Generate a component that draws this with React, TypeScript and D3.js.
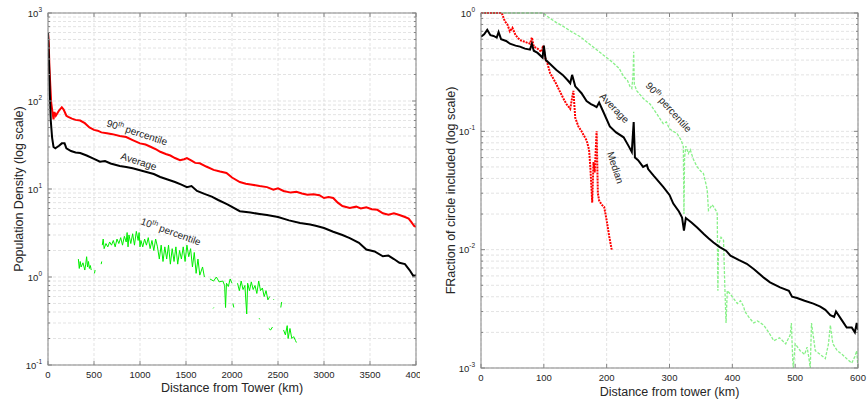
import React from "react";
import * as d3 from "d3";

type P = [number, number] | null;

// ---------- LEFT PANEL DATA ----------
const leftXTicks = [0, 500, 1000, 1500, 2000, 2500, 3000, 3500, 4000];
const leftYExps = [-1, 0, 1, 2, 3];

const leftAverage: P[] = [
  [0, 600], [10, 300], [20, 120], [30, 60], [45, 38], [60, 30], [80, 29], [100, 30], [120, 31],
  [150, 33], [180, 33], [200, 29], [250, 27], [300, 26], [350, 25.6], [420, 24], [500, 22],
  [565, 20.4], [620, 20.8], [680, 19.5], [780, 18.3], [850, 17.8], [920, 17.2], [1000, 16.3],
  [1080, 15.5], [1150, 14.8], [1220, 13.7], [1300, 12.8], [1380, 12], [1450, 11.2], [1510, 10.5],
  [1560, 10.8], [1620, 9.5], [1700, 8.8], [1780, 8.2], [1850, 7.5], [1950, 6.7], [2085, 5.6],
  [2200, 5.4], [2300, 5.2], [2380, 5.06], [2500, 4.8], [2620, 4.4], [2740, 4.1], [2850, 3.95],
  [2920, 3.8], [3000, 3.6], [3100, 3.27], [3200, 3.0], [3280, 2.77], [3380, 2.45], [3460, 2.05],
  [3550, 1.95], [3640, 1.72], [3700, 1.75], [3760, 1.6], [3820, 1.45], [3880, 1.4], [3930, 1.2],
  [3970, 1.03], [4000, 1.05],
];

const left90th: P[] = [
  [0, 600], [8, 450], [15, 250], [25, 150], [35, 95], [50, 73], [60, 62], [70, 75], [85, 68],
  [100, 72], [120, 78], [150, 85], [170, 80], [200, 68], [220, 66], [260, 63], [300, 61],
  [350, 60], [400, 56], [450, 50], [500, 47], [540, 46], [580, 44], [640, 43], [700, 42],
  [780, 40], [850, 39], [920, 36], [1000, 33], [1060, 32], [1120, 30], [1180, 28], [1220, 26.5],
  [1280, 25], [1330, 24], [1380, 22.5], [1435, 21.3], [1480, 21.8], [1510, 22.5], [1560, 21],
  [1600, 19.8], [1650, 19.6], [1720, 18], [1800, 16.5], [1870, 15.8], [1940, 15.2], [2000, 13.5],
  [2085, 12], [2150, 11.5], [2220, 11.2], [2300, 10.8], [2380, 10.5], [2450, 9.8], [2500, 10.2],
  [2560, 9.5], [2640, 9.1], [2700, 9.3], [2760, 8.9], [2820, 8.6], [2885, 8.7], [2950, 8.5],
  [3000, 7.9], [3050, 8.1], [3100, 7.9], [3150, 7.0], [3200, 6.4], [3280, 6.1], [3350, 6.3],
  [3400, 6.0], [3460, 6.2], [3520, 5.9], [3580, 5.8], [3640, 5.3], [3700, 5.1], [3760, 5.3],
  [3820, 5.06], [3880, 4.8], [3920, 4.6], [3950, 4.2], [3980, 3.8], [4000, 3.7],
];

const left10th: P[] = [
  [330, 1.6], [340, 1.25], [350, 1.5], [360, 1.3], [380, 1.45], [400, 1.2], [410, 1.4], [420, 1.7],
  [430, 1.3], [440, 1.5], [450, 1.25], [460, 1.35], [470, 1.2], null,
  [505, 1.1], [512, 1.2], null, [578, 1.4], [584, 1.5], null,
  [590, 2.3], [600, 2.7], [610, 2.1], [630, 2.4], [650, 2.2], [670, 2.5], [690, 2.3], [710, 2.6],
  [730, 2.2], [750, 2.7], [770, 2.4], [790, 2.8], [810, 2.3], [830, 2.9], [850, 2.5], [860, 3.2],
  [870, 2.2], [880, 3.0], [900, 2.4], [920, 3.1], [940, 2.3], [960, 3.3], [980, 2.6], [990, 3.2],
  [1000, 2.2], [1010, 2.6], [1030, 2.2], [1050, 2.7], [1070, 2.3], [1090, 2.8], [1110, 2.1],
  [1130, 2.6], [1150, 2.0], [1170, 2.7], [1190, 2.2], [1210, 1.6], [1230, 2.3], [1250, 1.5],
  [1270, 2.2], [1290, 1.6], [1310, 2.3], [1330, 1.4], [1350, 2.1], [1370, 1.5], [1390, 2.2],
  [1410, 1.4], [1430, 2.0], [1450, 1.6], [1470, 2.2], [1490, 1.5], [1510, 2.3], [1530, 1.7],
  [1550, 2.1], [1570, 1.3], [1590, 1.9], [1610, 1.1], [1630, 1.6], [1650, 1.05], [1680, 1.3],
  [1700, 1.0], null,
  [1760, 0.95], [1800, 0.9], [1830, 1.0], [1860, 0.88], [1900, 0.9], [1920, 0.8], [1930, 0.45],
  [1940, 0.85], [1960, 0.78], [1980, 0.95], [2000, 0.85], null,
  [1795, 0.44], [1802, 0.45], null, [2010, 0.5], [2020, 0.45], null,
  [2060, 0.85], [2080, 0.7], [2100, 0.9], [2120, 0.72], [2140, 0.8], [2160, 0.38], [2170, 0.85],
  [2190, 0.7], [2210, 0.88], [2230, 0.72], [2250, 0.8], [2270, 0.65], [2290, 0.9], [2310, 0.7],
  [2330, 0.75], [2350, 0.6], [2370, 0.7], [2390, 0.55], [2410, 0.6], null,
  [2295, 0.34], [2302, 0.33], null, [2450, 0.56], [2456, 0.55], null,
  [2530, 0.45], [2540, 0.52], null,
  [2400, 0.26], [2420, 0.25], [2440, 0.27], null,
  [2560, 0.25], [2580, 0.22], [2600, 0.28], [2610, 0.2], [2630, 0.26], [2650, 0.2], [2670, 0.21],
  [2690, 0.19], [2700, 0.18],
];

// ---------- RIGHT PANEL DATA ----------
const rightXTicks = [0, 100, 200, 300, 400, 500, 600];
const rightYExps = [-3, -2, -1, 0];

const rightAverage: P[] = [
  [0, 0.63], [5, 0.66], [10, 0.72], [15, 0.65], [20, 0.64], [25, 0.62], [28, 0.69], [32, 0.6],
  [40, 0.58], [46, 0.55], [55, 0.53], [62, 0.52], [70, 0.5], [78, 0.49], [81, 0.55], [84, 0.48],
  [90, 0.46], [98, 0.42], [100, 0.53], [103, 0.40], [110, 0.37], [120, 0.33], [130, 0.30],
  [138, 0.27], [142, 0.255], [145, 0.30], [150, 0.24], [160, 0.21], [168, 0.18], [175, 0.17],
  [180, 0.165], [184, 0.16], [188, 0.175], [195, 0.145], [205, 0.11], [215, 0.098], [227, 0.089],
  [235, 0.075], [240, 0.067], [243, 0.12], [245, 0.06], [250, 0.057], [258, 0.05], [264, 0.052],
  [266, 0.048], [275, 0.042], [290, 0.034], [300, 0.029], [306, 0.0245], [315, 0.021],
  [320, 0.0187], [323, 0.0145], [326, 0.0185], [335, 0.017], [344, 0.0154], [355, 0.0135],
  [362, 0.0125], [370, 0.0115], [380, 0.0105], [390, 0.0098], [397, 0.0089], [410, 0.0082],
  [423, 0.0076], [435, 0.0068], [450, 0.0058], [460, 0.0053], [476, 0.0048], [490, 0.0045],
  [495, 0.0040], [503, 0.0039], [515, 0.0037], [529, 0.0035], [540, 0.0033], [548, 0.0031],
  [556, 0.0028], [562, 0.0027], [565, 0.0030], [575, 0.0025], [582, 0.0022], [590, 0.0022],
  [595, 0.0020], [598, 0.0024], [600, 0.0021],
];

const rightMedian: P[] = [
  [0, 1], [10, 1], [20, 1], [30, 1], [33, 1], [38, 0.85], [42, 0.8], [46, 0.7], [50, 0.75],
  [55, 0.65], [62, 0.59], [70, 0.57], [78, 0.55], [81, 0.62], [84, 0.52], [90, 0.5], [96, 0.47],
  [99, 0.53], [102, 0.42], [106, 0.37], [110, 0.31], [115, 0.28], [120, 0.25], [125, 0.22],
  [131, 0.19], [136, 0.17], [142, 0.155], [147, 0.22], [150, 0.13], [155, 0.11], [160, 0.1],
  [168, 0.084], [172, 0.07], [174, 0.05], [177, 0.025], [179, 0.055], [181, 0.045], [184, 0.1],
  [186, 0.03], [188, 0.026], [192, 0.024], [196, 0.023], [200, 0.0177], [204, 0.013], [208, 0.01],
];

const right90th: P[] = [
  [0, 1], [20, 1], [40, 1], [60, 1], [80, 1], [100, 1], [102, 0.97], [110, 0.9], [120, 0.83],
  [131, 0.77], [145, 0.69], [158, 0.63], [170, 0.56], [184, 0.49], [195, 0.44], [205, 0.40],
  [211, 0.376], [220, 0.34], [227, 0.29], [233, 0.27], [237, 0.24], [240, 0.23], [242, 0.30],
  [243, 0.47], [244, 0.25], [248, 0.22], [258, 0.19], [269, 0.17], [280, 0.14], [290, 0.116],
  [295, 0.12], [300, 0.105], [306, 0.1], [312, 0.096], [318, 0.085], [320, 0.08], [322, 0.074],
  [323, 0.02], [324, 0.06], [326, 0.075], [330, 0.065], [333, 0.07], [338, 0.058], [344, 0.05],
  [350, 0.046], [354, 0.044], [358, 0.036], [360, 0.032], [362, 0.0215], [368, 0.024],
  [375, 0.021], [376, 0.02], [377, 0.0045], [378, 0.011], [382, 0.0127], [386, 0.012],
  [388, 0.005], [390, 0.0024], [392, 0.0045], [397, 0.0042], [403, 0.0038], [408, 0.0035],
  [413, 0.0037], [418, 0.0033], [420, 0.003], [426, 0.0027], [434, 0.0024], [440, 0.0025],
  [450, 0.0023], [458, 0.002], [466, 0.0017], [475, 0.0018], [485, 0.0016], [492, 0.0019],
  [494, 0.0024], [496, 0.0012], [497, 0.001], [500, 0.0016], [508, 0.0014], [515, 0.0013],
  [519, 0.0015], [522, 0.0012], [524, 0.001], [526, 0.0024], [532, 0.0014], [540, 0.0013],
  [548, 0.0012], [553, 0.0016], [556, 0.0023], [560, 0.0016], [567, 0.0014], [575, 0.0013],
  [582, 0.0012], [590, 0.0011], [595, 0.00125], [598, 0.0014], [600, 0.001],
];

const FONT = "'Liberation Sans', Arial, Helvetica, sans-serif";
const GRID = "#dcdcdc";
const AXIS = "#858585";
const TXT = "#262626";

function minorTicks(exps: number[]) {
  const out: number[] = [];
  for (let i = 0; i < exps.length - 1; i++) {
    for (let m = 2; m <= 9; m++) out.push(m * Math.pow(10, exps[i]));
  }
  return out;
}

function Axes({ x, y, xTicks, yExps, x0, x1, y0, y1 }: any) {
  const minors = minorTicks(yExps);
  return (
    <g>
      <rect x={x0} y={y0} width={x1 - x0} height={y1 - y0} fill="#fff" />
      {minors.map((v: number, i: number) => (
        <line key={"m" + i} x1={x0} x2={x1} y1={y(v)} y2={y(v)} stroke={GRID} strokeWidth={0.8} strokeDasharray="3,2" />
      ))}
      {yExps.map((e: number) => (
        <line key={"M" + e} x1={x0} x2={x1} y1={y(Math.pow(10, e))} y2={y(Math.pow(10, e))} stroke={GRID} strokeWidth={0.8} strokeDasharray="3,2" />
      ))}
      {xTicks.map((t: number) => (
        <line key={"x" + t} x1={x(t)} x2={x(t)} y1={y0} y2={y1} stroke={GRID} strokeWidth={0.8} strokeDasharray="3,2" />
      ))}
    </g>
  );
}

function Frame({ x, y, xTicks, yExps, x0, x1, y0, y1 }: any) {
  const minors = minorTicks(yExps);
  return (
    <g fontFamily={FONT} fill={TXT}>
      <rect x={x0} y={y0} width={x1 - x0} height={y1 - y0} fill="none" stroke={AXIS} strokeWidth={1} />
      {xTicks.map((t: number) => (
        <g key={"xt" + t}>
          <line x1={x(t)} x2={x(t)} y1={y1} y2={y1 - 4} stroke={AXIS} />
          <line x1={x(t)} x2={x(t)} y1={y0} y2={y0 + 4} stroke={AXIS} />
          <text x={x(t)} y={y1 + 13} fontSize={9.5} textAnchor="middle">{t}</text>
        </g>
      ))}
      {yExps.map((e: number) => (
        <g key={"yt" + e}>
          <line x1={x0} x2={x0 + 4} y1={y(Math.pow(10, e))} y2={y(Math.pow(10, e))} stroke={AXIS} />
          <line x1={x1} x2={x1 - 4} y1={y(Math.pow(10, e))} y2={y(Math.pow(10, e))} stroke={AXIS} />
          <text x={x0 - 6} y={y(Math.pow(10, e)) + 3.5} fontSize={9.5} textAnchor="end">
            10<tspan dy={-5} fontSize={6.5}>{e}</tspan>
          </text>
        </g>
      ))}
      {minors.map((v: number, i: number) => (
        <g key={"mt" + i}>
          <line x1={x0} x2={x0 + 2} y1={y(v)} y2={y(v)} stroke={AXIS} />
          <line x1={x1} x2={x1 - 2} y1={y(v)} y2={y(v)} stroke={AXIS} />
        </g>
      ))}
    </g>
  );
}

function Label({ x, y, angle, children, size = 10 }: any) {
  return (
    <text transform={`translate(${x},${y}) rotate(${angle})`} fontSize={size} fontFamily={FONT} fill={TXT}>
      {children}
    </text>
  );
}

export default function App() {
  // left panel
  const L = { x0: 48, x1: 416, y0: 13, y1: 365 };
  const xL = d3.scaleLinear().domain([0, 4000]).range([L.x0, L.x1]);
  const yL = d3.scaleLog().domain([0.1, 1000]).range([L.y1, L.y0]);
  const lineL = d3
    .line<P>()
    .defined((d) => d !== null)
    .x((d) => xL((d as [number, number])[0]))
    .y((d) => yL((d as [number, number])[1]));

  // right panel
  const R = { x0: 481, x1: 858, y0: 13, y1: 368 };
  const xR = d3.scaleLinear().domain([0, 600]).range([R.x0, R.x1]);
  const yR = d3.scaleLog().domain([0.001, 1]).range([R.y1, R.y0]);
  const lineR = d3
    .line<P>()
    .defined((d) => d !== null)
    .x((d) => xR((d as [number, number])[0]))
    .y((d) => yR((d as [number, number])[1]));

  return (
    <svg width={867} height={405} style={{ position: "absolute", left: 0, top: 0, background: "#fff" }}>
      <defs>
        <clipPath id="leftPanel"><rect x={0} y={0} width={420} height={405} /></clipPath>
        <clipPath id="plotL"><rect x={L.x0} y={L.y0} width={L.x1 - L.x0} height={L.y1 - L.y0} /></clipPath>
        <clipPath id="plotR"><rect x={R.x0} y={R.y0 - 1} width={R.x1 - R.x0} height={R.y1 - R.y0 + 2} /></clipPath>
      </defs>
      <rect width={867} height={405} fill="#fff" />

      {/* LEFT */}
      <g clipPath="url(#leftPanel)">
        <Axes x={xL} y={yL} xTicks={leftXTicks} yExps={leftYExps} {...L} />
        <g clipPath="url(#plotL)">
          <path d={lineL(left10th) || ""} fill="none" stroke="#00ee00" strokeWidth={1} />
          <path d={lineL(left90th) || ""} fill="none" stroke="#ff0000" strokeWidth={2} />
          <path d={lineL(leftAverage) || ""} fill="none" stroke="#000" strokeWidth={2} />
        </g>
        <Frame x={xL} y={yL} xTicks={leftXTicks} yExps={leftYExps} {...L} />
        <Label x={106} y={126} angle={18}>
          90<tspan dy={-4} fontSize={7}>th</tspan><tspan dy={4}> percentile</tspan>
        </Label>
        <Label x={120} y={159} angle={18}>Average</Label>
        <Label x={140} y={224} angle={20}>
          10<tspan dy={-4} fontSize={7}>th</tspan><tspan dy={4}> percentile</tspan>
        </Label>
        <text x={(L.x0 + L.x1) / 2} y={392} fontSize={12.5} textAnchor="middle" fontFamily={FONT} fill={TXT}>
          Distance from Tower (km)
        </text>
        <text transform={`translate(23,${(L.y0 + L.y1) / 2}) rotate(-90)`} fontSize={12.5} textAnchor="middle" fontFamily={FONT} fill={TXT}>
          Population Density (log scale)
        </text>
      </g>

      {/* RIGHT */}
      <Axes x={xR} y={yR} xTicks={rightXTicks} yExps={rightYExps} {...R} />
      <g clipPath="url(#plotR)">
        <path d={lineR(right90th) || ""} fill="none" stroke="#88f088" strokeWidth={1.3} strokeDasharray="3,1.5" />
        <path d={lineR(rightMedian) || ""} fill="none" stroke="#ff0000" strokeWidth={2} strokeDasharray="2,1" />
        <path d={lineR(rightAverage) || ""} fill="none" stroke="#000" strokeWidth={2} />
      </g>
      <Frame x={xR} y={yR} xTicks={rightXTicks} yExps={rightYExps} {...R} />
      <Label x={599} y={97} angle={46}>Average</Label>
      <Label x={645} y={86} angle={48}>
        90<tspan dy={-4} fontSize={7}>th</tspan><tspan dy={4}> percentile</tspan>
      </Label>
      <Label x={607} y={153} angle={72}>Median</Label>
      <text x={(R.x0 + R.x1) / 2} y={396} fontSize={12.5} textAnchor="middle" fontFamily={FONT} fill={TXT}>
        Distance from tower (km)
      </text>
      <text transform={`translate(455,${(R.y0 + R.y1) / 2}) rotate(-90)`} fontSize={12.5} textAnchor="middle" fontFamily={FONT} fill={TXT}>
        FRaction of circle included (log scale)
      </text>
    </svg>
  );
}
